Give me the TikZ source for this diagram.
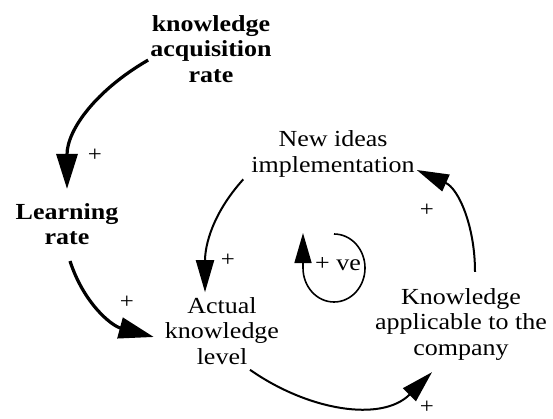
\documentclass[tikz,border=0pt]{standalone}
\usepackage{fontspec}
\setmainfont{Liberation Serif}[FakeStretch=1.13]
\usetikzlibrary{arrows.meta}

\begin{document}
\begin{tikzpicture}[x=1pt,y=1pt,
    var/.style={align=center,inner sep=2pt,font=\fontsize{23}{25.5}\selectfont},
    keyvar/.style={var,font=\fontsize{23}{25.5}\selectfont\bfseries},
    biglink/.style={-{Triangle[length=35pt,width=21pt]},line width=3.2pt},
    link/.style={-{Triangle[length=32pt,width=18pt]},line width=2pt},
    looplink/.style={-{Triangle[length=30pt,width=17pt]},line width=1.6pt},
    sign/.style={inner sep=0pt,font=\fontsize{22}{22}\selectfont}
]
\useasboundingbox (0,0) rectangle (553,418);

% Variables
\node[keyvar] (kar) at (211,369) {knowledge\\acquisition\\rate};
\node[keyvar] (lr) at (67,194) {Learning\\rate};
\node[var] (new) at (333,264) {New ideas\\implementation};
\node[var] (act) at (222,87) {Actual\\knowledge\\level};
\node[var] (kap) at (461,94) {Knowledge\\applicable to the\\company};

% Causal links
\draw[biglink] (kar.190) to[out=210,in=90] ([yshift=12pt]lr.north);
\draw[biglink] ([shift={(3pt,-14pt)}]lr.south) to[out=-72,in=165] ([shift={(-9pt,-6pt)}]act.west);
\draw[link] ([xshift=-6pt]new.south west) to[out=228,in=90] ([shift={(-17pt,3pt)}]act.north);
\draw[link] ([shift={(28pt,-3pt)}]act.south) to[out=-35,in=225] ([shift={(-29pt,-10pt)}]kap.south);
\draw[link] ([shift={(14pt,14pt)}]kap.north) to[out=90,in=-24] ([yshift=-16pt]new.east);

% Polarities
\node[sign] (p1) at (95,263) {+};
\node[sign] (p2) at (127,116) {+};
\node[sign] (p3) at (228,158) {+};
\node[sign] (p4) at (427,11) {+};
\node[sign] (p5) at (427,208) {+};

% Loop marker
\node[var] (ve) at (338,154) {+ ve};
\coordinate (loopc) at (334,150);
\draw[looplink] ([yshift=34pt]loopc) arc[start angle=90,end angle=-180,x radius=31pt,y radius=34pt] -- ++(0,35pt);

\end{tikzpicture}
\end{document}
